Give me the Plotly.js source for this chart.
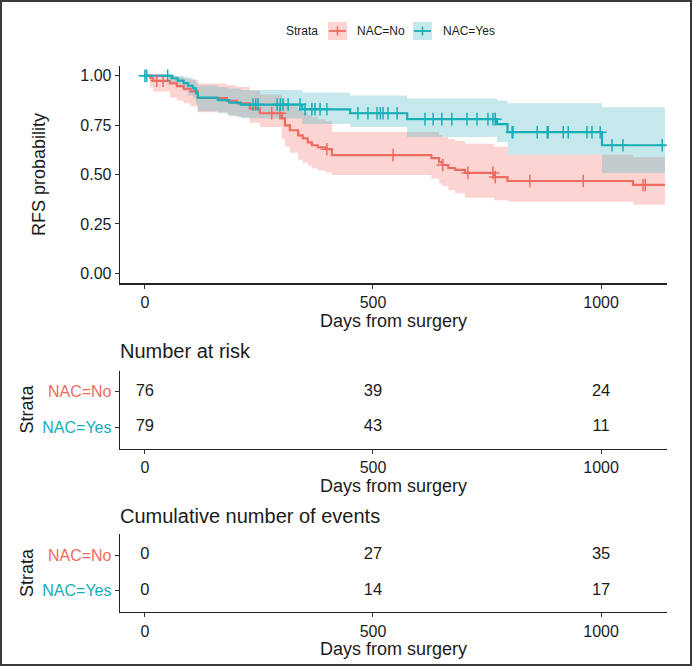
<!DOCTYPE html>
<html><head><meta charset="utf-8">
<script src="https://cdn.plot.ly/plotly-3.0.1.min.js"></script>
<style>html,body{margin:0;padding:0;background:#fff}#chart{width:693px;height:667px}</style>
</head><body><div id="chart"></div>
<script>
// ---------- data ----------
const strata = ['NAC=No', 'NAC=Yes'];

const redTime  = [0, 12, 18, 55, 70, 85, 100, 116, 180, 202, 230, 252, 300, 307, 318, 336, 346, 357, 366, 379, 396, 410, 628, 645, 652, 665, 680, 702, 765, 795, 1070];
const redSurv  = [1.0, 0.987, 0.974, 0.961, 0.947, 0.934, 0.921, 0.887, 0.873, 0.86, 0.833, 0.81, 0.784, 0.749, 0.724, 0.698, 0.683, 0.663, 0.648, 0.638, 0.628, 0.598, 0.583, 0.563, 0.548, 0.533, 0.523, 0.508, 0.487, 0.467, 0.447];
const redUpper = [1.0, 1.0, 1.0, 0.998, 0.993, 0.985, 0.978, 0.96, 0.952, 0.943, 0.925, 0.905, 0.885, 0.86, 0.845, 0.825, 0.815, 0.80, 0.79, 0.78, 0.77, 0.715, 0.715, 0.70, 0.69, 0.68, 0.67, 0.655, 0.64, 0.60, 0.588];
const redLower = [1.0, 0.94, 0.92, 0.89, 0.875, 0.86, 0.845, 0.815, 0.80, 0.79, 0.76, 0.74, 0.68, 0.64, 0.61, 0.575, 0.56, 0.545, 0.53, 0.52, 0.51, 0.497, 0.478, 0.455, 0.44, 0.42, 0.405, 0.382, 0.37, 0.362, 0.347];
const redCensor = [26, 40, 278, 296, 399, 544, 653, 708, 763, 768, 844, 961, 1092, 1097];

const cyanTime  = [0, 58, 72, 85, 95, 105, 112, 116, 160, 185, 210, 345, 450, 575, 772, 795, 1002];
const cyanSurv  = [1.0, 0.987, 0.975, 0.962, 0.949, 0.936, 0.911, 0.889, 0.876, 0.864, 0.854, 0.83, 0.81, 0.78, 0.755, 0.714, 0.648];
const cyanUpper = [1.0, 1.0, 1.0, 0.995, 0.99, 0.982, 0.965, 0.95, 0.942, 0.935, 0.928, 0.915, 0.90, 0.885, 0.874, 0.86, 0.84];
const cyanLower = [1.0, 0.962, 0.94, 0.92, 0.90, 0.885, 0.855, 0.82, 0.81, 0.795, 0.785, 0.755, 0.74, 0.69, 0.665, 0.60, 0.508];
const cyanCensor = [0, 4, 50, 237, 243, 248, 290, 297, 303, 314, 340, 351, 366, 373, 384, 399, 467, 489, 509, 516, 522, 533, 553, 614, 632, 651, 673, 706, 728, 752, 763, 768, 805, 807, 860, 882, 884, 917, 928, 969, 980, 998, 1024, 1048, 1134];

const tEnd = 1140;
const tableTimes = [0, 500, 1000];
const riskNo  = [76, 39, 24];
const riskYes = [79, 43, 11];
const eventsNo  = [0, 27, 35];
const eventsYes = [0, 14, 17];
const xTickVals = [0, 500, 1000];
const yTickVals = [0, 0.25, 0.5, 0.75, 1];

// ---------- style ----------
const W = 693, H = 667;
const FONT = 'Liberation Sans, Arial, Helvetica, sans-serif';
const RED = '#EE6B61', CYAN = '#16AEB7';
const RED_FILL = 'rgba(245,120,112,0.32)', CYAN_FILL = 'rgba(60,180,190,0.30)';
const TXT = '#1c1c1c';
const X = px => px / W, Y = py => 1 - py / H;

function stepX(t) { return t.concat([tEnd]); }
function stepY(s) { return s.concat([s[s.length - 1]]); }
function lookup(t, s, c) { let v = s[0]; for (let i = 0; i < t.length; i++) if (t[i] <= c) v = s[i]; return v; }

const traces = [];
function band(t, lo, hi, fill) {
  traces.push({x: stepX(t), y: stepY(lo), mode: 'lines', line: {width: 0, shape: 'hv'}, hoverinfo: 'skip', showlegend: false, xaxis: 'x', yaxis: 'y'});
  traces.push({x: stepX(t), y: stepY(hi), mode: 'lines', line: {width: 0, shape: 'hv'}, fill: 'tonexty', fillcolor: fill, hoverinfo: 'skip', showlegend: false, xaxis: 'x', yaxis: 'y'});
}
band(redTime, redLower, redUpper, RED_FILL);
band(cyanTime, cyanLower, cyanUpper, CYAN_FILL);
traces.push({x: stepX(redTime), y: stepY(redSurv), mode: 'lines', line: {color: RED, width: 2.2, shape: 'hv'}, showlegend: false, name: strata[0]});
traces.push({x: stepX(cyanTime), y: stepY(cyanSurv), mode: 'lines', line: {color: CYAN, width: 2.2, shape: 'hv'}, showlegend: false, name: strata[1]});
traces.push({x: redCensor, y: redCensor.map(c => lookup(redTime, redSurv, c)), mode: 'markers',
  marker: {symbol: 'cross-thin-open', size: 9, color: RED, line: {color: RED, width: 1.5}}, showlegend: false});
traces.push({x: cyanCensor, y: cyanCensor.map(c => lookup(cyanTime, cyanSurv, c)), mode: 'markers',
  marker: {symbol: 'cross-thin-open', size: 9, color: CYAN, line: {color: CYAN, width: 1.5}}, showlegend: false});

function tableText(vals, row, ax) {
  traces.push({x: tableTimes, y: vals.map(() => row), text: vals.map(String), mode: 'text',
    textfont: {family: FONT, size: 16.5, color: TXT}, textposition: 'middle center',
    xaxis: 'x' + ax, yaxis: 'y' + ax, showlegend: false, hoverinfo: 'skip'});
}
tableText(riskNo, 2, 2); tableText(riskYes, 1, 2);
tableText(eventsNo, 2, 3); tableText(eventsYes, 1, 3);

const xRange = [-54.5, 1144.5];
const xDom = [X(120), X(667)];
function xAxis(anchor, title) {
  return {domain: xDom, range: xRange, anchor: anchor, tickvals: xTickVals, ticks: 'outside', ticklen: 4, tickwidth: 1,
    tickcolor: '#333', showline: true, linecolor: '#222', linewidth: 1.3, showgrid: false, zeroline: false,
    tickfont: {family: FONT, size: 16, color: TXT},
    title: {text: title, font: {family: FONT, size: 18, color: TXT}, standoff: 1}, fixedrange: true};
}
const rowTickText = ['<span style="color:' + CYAN + '">' + strata[1] + '</span>', '<span style="color:' + RED + '">' + strata[0] + '</span>'];
function tableY(anchor, dom) {
  return {domain: dom, range: [0.4, 2.6], anchor: anchor, tickvals: [1, 2], ticktext: rowTickText, ticks: 'outside', ticklen: 4,
    tickcolor: '#333', showline: true, linecolor: '#222', linewidth: 1.3, showgrid: false, zeroline: false,
    tickfont: {family: FONT, size: 16, color: TXT},
    title: {text: 'Strata', font: {family: FONT, size: 18, color: TXT}, standoff: 4}, fixedrange: true};
}

// legend drawn in layout
const legY0 = 22, legY1 = 40, legMid = 31;
const shapes = [
  {type: 'rect', xref: 'paper', yref: 'paper', x0: X(1), x1: X(691), y0: Y(665), y1: Y(1), line: {color: '#3a3a3a', width: 2}},
  {type: 'rect', xref: 'paper', yref: 'paper', x0: X(328), x1: X(347), y0: Y(legY1), y1: Y(legY0), fillcolor: RED_FILL, line: {width: 0}},
  {type: 'line', xref: 'paper', yref: 'paper', x0: X(329), x1: X(346), y0: Y(legMid), y1: Y(legMid), line: {color: RED, width: 1.8}},
  {type: 'line', xref: 'paper', yref: 'paper', x0: X(337.5), x1: X(337.5), y0: Y(legMid - 4.5), y1: Y(legMid + 4.5), line: {color: RED, width: 1.5}},
  {type: 'rect', xref: 'paper', yref: 'paper', x0: X(413), x1: X(432), y0: Y(legY1), y1: Y(legY0), fillcolor: CYAN_FILL, line: {width: 0}},
  {type: 'line', xref: 'paper', yref: 'paper', x0: X(414), x1: X(431), y0: Y(legMid), y1: Y(legMid), line: {color: CYAN, width: 1.8}},
  {type: 'line', xref: 'paper', yref: 'paper', x0: X(422.5), x1: X(422.5), y0: Y(legMid - 4.5), y1: Y(legMid + 4.5), line: {color: CYAN, width: 1.5}}
];
const annotations = [
  {text: 'Strata', xref: 'paper', yref: 'paper', x: X(320), y: Y(legMid), xanchor: 'right', yanchor: 'middle', showarrow: false, font: {family: FONT, size: 12, color: TXT}},
  {text: strata[0], xref: 'paper', yref: 'paper', x: X(355), y: Y(legMid), xanchor: 'left', yanchor: 'middle', showarrow: false, font: {family: FONT, size: 12, color: TXT}},
  {text: strata[1], xref: 'paper', yref: 'paper', x: X(441), y: Y(legMid), xanchor: 'left', yanchor: 'middle', showarrow: false, font: {family: FONT, size: 12, color: TXT}},
  {text: 'Number at risk', xref: 'paper', yref: 'paper', x: X(118), y: Y(351), xanchor: 'left', yanchor: 'middle', showarrow: false, font: {family: FONT, size: 20, color: TXT}},
  {text: 'Cumulative number of events', xref: 'paper', yref: 'paper', x: X(118), y: Y(516), xanchor: 'left', yanchor: 'middle', showarrow: false, font: {family: FONT, size: 20, color: TXT}}
];

const layout = {
  width: W, height: H, margin: {l: 0, r: 0, t: 0, b: 0}, paper_bgcolor: '#fff', plot_bgcolor: '#fff',
  showlegend: false, font: {family: FONT, color: TXT},
  xaxis: xAxis('y', 'Days from surgery'),
  yaxis: {domain: [Y(283.2), Y(65.8)], range: [-0.05, 1.05], anchor: 'x', tickvals: yTickVals, tickformat: '.2f',
    ticks: 'outside', ticklen: 4, tickcolor: '#333', showline: true, linecolor: '#222', linewidth: 1.3, showgrid: false, zeroline: false,
    tickfont: {family: FONT, size: 16, color: TXT}, title: {text: 'RFS probability', font: {family: FONT, size: 18, color: TXT}, standoff: 30}, fixedrange: true},
  xaxis2: xAxis('y2', 'Days from surgery'),
  yaxis2: tableY('x2', [Y(448.5), Y(370.5)]),
  xaxis3: xAxis('y3', 'Days from surgery'),
  yaxis3: tableY('x3', [Y(612), Y(534)]),
  shapes: shapes, annotations: annotations
};
Plotly.newPlot('chart', traces, layout, {displayModeBar: false, staticPlot: true});
</script></body></html>
